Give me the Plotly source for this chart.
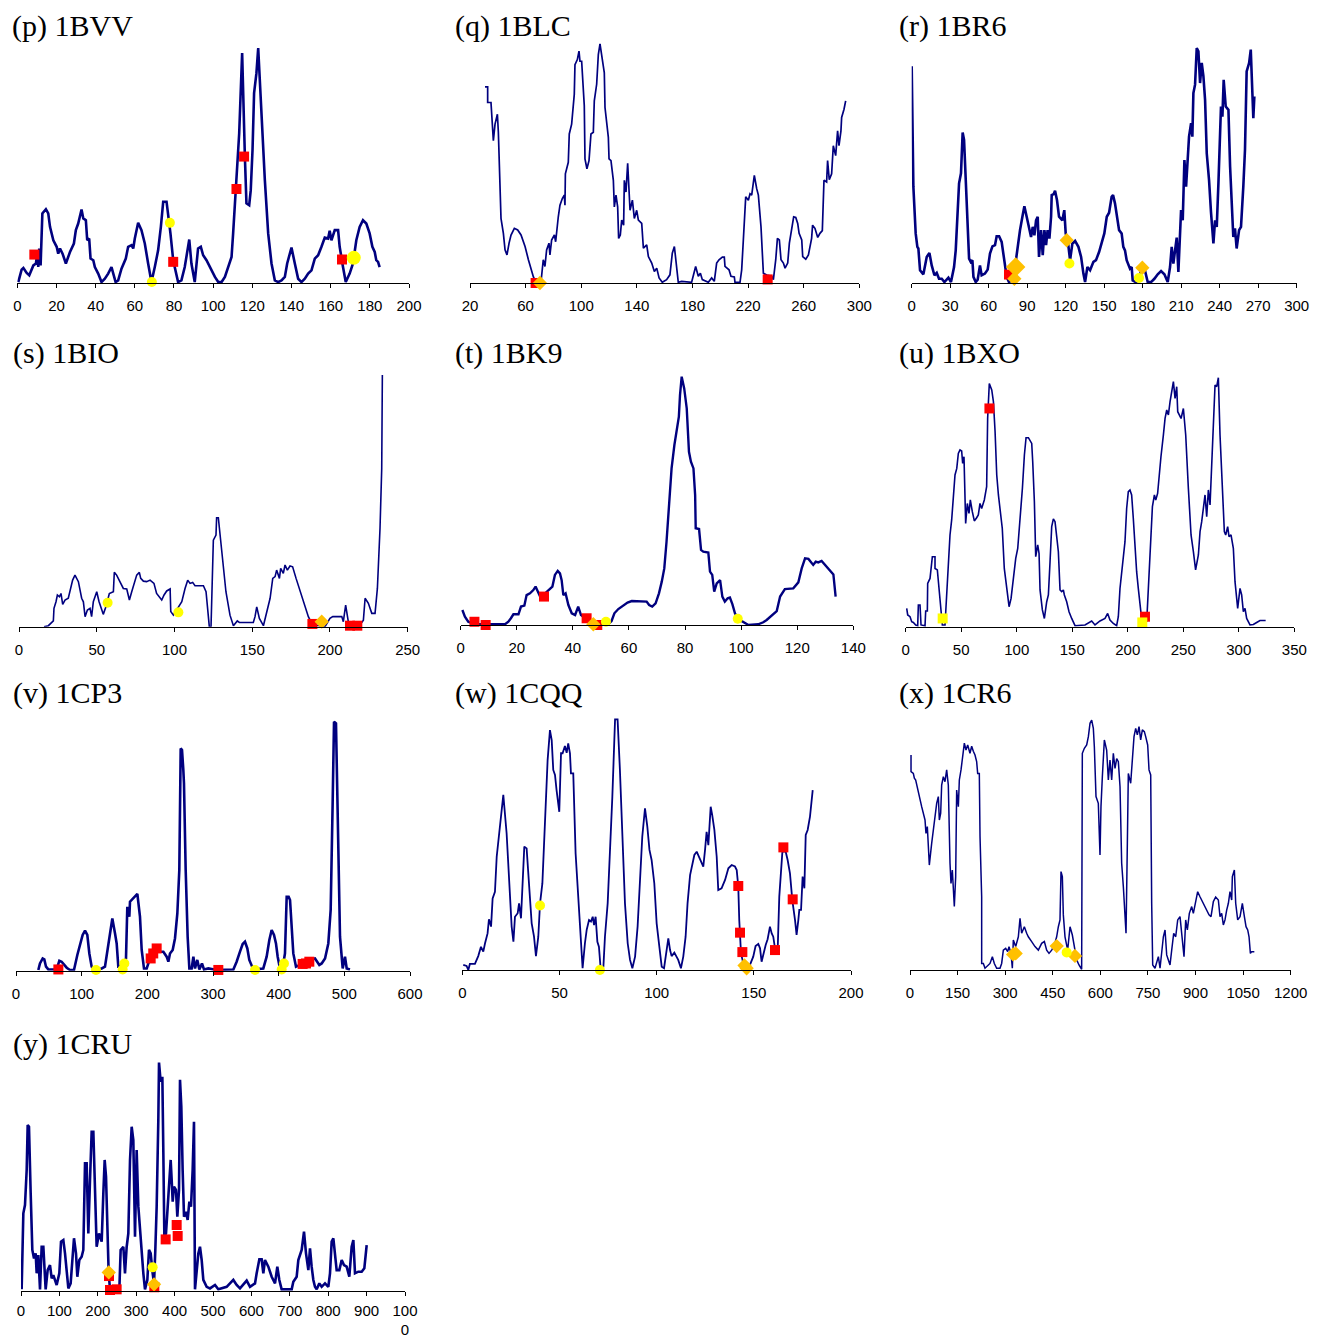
import plotly.graph_objects as go

# ---------------- data (x value, relative height 0-100) ----------------
# (p) 1BVV
p_line = [(0.5,0.4),(2.2,5.7),(3.1,6.4),(4.8,4.3),(6.1,3.3),(7.3,6.1),(8.2,7.5),(9.5,8.3),(10.2,12.5),(10.7,6.8),
          (11.2,14.7),(11.9,7.5),(12.8,29.6),(14.6,31.4),(15.8,29.6),(16.7,23.9),(18.4,18.2),(20.1,15.4),(20.9,12.5),(21.8,14.7),
          (23.1,12.5),(24.8,8.3),(26.9,13.2),(28.9,16.8),(29.9,22.5),(31.1,25.3),(32.8,31.3),(33.7,27.5),(35.0,26.7),(35.7,18.2),
          (36.7,18.9),(37.4,10.4),(38.8,9.7),(39.6,6.8),(41.3,4.0),(43.0,0.4),(44.7,1.8),(46.4,4.0),(48.1,6.8),(49.0,4.0),
          (50.2,0.4),(51.5,1.1),(53.2,6.1),(55.4,10.4),(56.6,15.4),(58.3,16.1),(59.2,14.7),(60.0,18.9),(61.7,25.6),(63.4,22.5),
          (65.1,16.8),(66.8,8.3),(68.5,0.4),(70.2,6.8),(71.9,13.9),(73.3,23.9),(74.5,34.6),(76.2,34.6),(77.0,29.6),(78.2,21.1),
          (79.6,9.7),(81.0,4.0),(82.1,0.4),(83.8,1.1),(85.5,6.8),(87.8,18.5),(88.9,8.3),(90.6,0.4),(92.3,14.7),(93.7,15.4),
          (94.9,11.8),(96.6,9.7),(98.3,6.8),(100.9,2.6),(102.6,0.4),(104.3,0.4),(106.0,2.6),(108.2,8.3),(109.4,11.1),(110.2,21.1),
          (111.9,42.4),(113.3,63.7),(114.8,97.9),(115.3,77.9),(116.2,53.8),(117.0,33.9),(118.4,33.1),(119.2,39.5),(120.1,56.6),(120.9,80.8),
          (122.1,89.3),(123.0,100),(124.7,70.8),(126.4,43.8),(128.1,21.1),(129.8,8.3),(131.5,1.1),(133.2,0.4),(134.9,1.1),(136.6,2.6),
          (137.8,8.3),(140.0,15.1),(141.7,8.3),(143.4,1.8),(145.1,0.4),(146.8,1.8),(148.5,4.0),(150.2,5.4),(151.9,10.4),(153.6,11.8),
          (155.3,15.4),(157.0,19.3),(158.7,18.9),(159.5,22.2),(160.4,18.2),(161.2,20.3),(162.1,22.5),(163.8,22.5),(164.6,15.4),(166.3,6.8),
          (167.7,0.4),(169.7,4.0),(171.4,8.3),(173.1,18.2),(174.8,23.9),(176.5,26.7),(178.2,25.3),(179.9,21.1),(181.3,15.4),(182.5,13.2),
          (183.3,9.7),(184.2,9.0),(185.0,6.8)]
p_red = [(8.7,12.1),(79.6,9.0),(111.9,40.0),(115.8,53.8),(165.8,10.0)]
p_yellow = [(68.7,0.4),(77.9,25.6)]
p_yellow_big = [(171.8,10.7)]
p_gold = []
p_ticks = [0,20,40,60,80,100,120,140,160,180,200]

# (q) 1BLC
q_line = [(30.8,81.7),(32.7,81.7),(32.7,75.2),(35.1,75.2),(36.8,59.3),(38.0,66.2),(39.7,70.3),(40.4,62.8),(42.3,26.9),(44.0,20.7),
          (45.2,13.8),(46.6,11.7),(48.1,16.6),(49.5,20.0),(51.9,22.8),(54.3,22.1),(56.7,20.0),(59.6,15.2),(62.0,9.7),(63.9,5.5),
          (65.6,2.5),(67.2,0.7),(71.1,0.7),(72.7,9.7),(73.9,6.9),(75.1,13.8),(76.8,16.6),(77.5,11.7),(78.7,17.9),(80.7,20.0),
          (81.6,17.2),(83.5,27.6),(84.7,32.4),(86.4,35.2),(87.8,36.6),(88.3,32.4),(88.6,45.5),(90.7,50.3),(91.4,62.1),(93.1,66.2),
          (95.0,78.6),(95.5,91.0),(97.2,93.1),(98.4,96.6),(99.1,92.4),(100.3,92.4),(102.2,73.8),(102.7,51.7),(104.1,47.6),(105.6,51.0),
          (107.0,62.1),(108.7,62.8),(109.4,75.9),(111.1,82.8),(112.3,95.2),(113.5,99.6),(114.7,95.2),(116.6,87.6),(117.1,73.1),(119.5,60.7),
          (120.0,51.7),(121.4,51.0),(123.1,42.8),(123.8,31.7),(125.0,36.6),(126.2,31.7),(126.9,18.6),(128.1,20.0),(129.1,26.2),(130.5,24.1),
          (131.0,42.8),(132.2,37.9),(133.4,49.9),(135.1,30.3),(136.8,34.5),(138.2,26.9),(139.9,30.3),(141.1,26.2),(143.5,24.8),(144.7,14.5),
          (147.1,15.9),(148.3,11.0),(150.7,8.3),(152.6,4.8),(154.3,6.2),(156.0,2.1),(158.3,0.3),(161.4,1.4),(163.8,3.4),(165.5,12.4),
          (167.0,15.2),(168.4,6.9),(169.8,0.3),(172.2,0.7),(179.4,0.3),(182.3,6.9),(184.2,2.8),(185.7,4.1),(187.1,1.4),(191.4,0.3),
          (193.8,2.1),(195.7,0.7),(197.4,8.3),(199.1,9.7),(201.5,10.8),(202.9,10.8),(203.4,6.9),(206.3,5.5),(207.7,2.8),(210.1,2.5),
          (210.6,0.3),(214.2,0.3),(215.4,5.5),(216.6,17.9),(218.3,35.9),(220.2,34.5),(221.4,37.2),(222.6,36.6),(223.8,42.8),(224.5,44.8),
          (226.2,39.3),(227.4,36.6),(229.3,23.4),(231.0,4.1),(233.4,3.3),(237.0,2.8),(238.2,1.4),(239.9,9.7),(241.1,18.6),(242.5,17.9),
          (243.7,9.7),(245.4,8.3),(246.6,6.2),(248.5,8.3),(249.7,16.6),(251.4,22.1),(252.8,27.6),(254.3,27.3),(255.7,24.8),(256.7,20.7),
          (258.6,17.9),(259.3,11.0),(261.5,9.9),(263.4,11.7),(264.5,15.9),(265.7,18.6),(266.4,24.1),(268.1,22.8),(270.1,19.0),(271.7,20.7),
          (273.4,21.8),(274.6,42.8),(276.5,42.1),(277.2,51.0),(278.4,43.0),(280.1,45.5),(281.3,57.2),(283.0,53.1),(284.4,63.4),(285.4,57.2),
          (286.8,63.4),(287.3,69.0),(289.0,72.4),(290.2,75.9)]
q_red = [(67.2,0.0),(234.1,1.5)]
q_yellow = []
q_gold = [(70.3,0.0)]
q_ticks = [20,60,100,140,180,220,260,300]

# (r) 1BR6
r_line = [(0,92.2),(1.3,41.0),(3.1,21.1),(4.4,15.4),(5.2,14.7),(6.5,5.4),(9.1,3.7),(11.7,11.1),(13.8,12.8),(15.6,7.5),
          (17.7,3.3),(19.5,4.3),(21.3,1.8),(23.4,1.8),(25.5,0.4),(28.6,2.3),(30.6,0.4),(33.0,6.8),(34.3,13.9),(35.8,29.6),
          (36.9,42.4),(38.4,46.7),(39.7,64.0),(40.8,60.9),(42.1,43.8),(43.4,29.6),(44.7,10.4),(46.0,9.0),(47.3,9.7),(48.1,2.6),
          (49.9,0.4),(51.4,1.4),(53.2,7.5),(54.5,3.3),(57.1,4.0),(59.2,5.7),(61.0,12.5),(62.9,15.6),(64.9,16.1),(66.2,19.9),
          (68.1,19.9),(70.1,17.5),(72.2,8.3),(74.0,2.6),(75.8,0.4),(77.9,1.1),(80.5,6.8),(82.6,15.4),(84.4,22.5),(86.5,28.9),
          (87.8,32.7),(89.6,28.2),(91.4,23.2),(93.0,19.6),(94.3,23.9),(95.6,20.3),(96.9,26.7),(98.2,28.2),(99.2,11.1),(100.8,22.5),
          (102.1,11.8),(103.4,22.5),(104.7,16.1),(105.9,22.5),(107.3,18.9),(108.6,28.2),(109.1,37.4),(110.6,37.8),(111.7,39.3),(113.2,35.3),
          (114.8,28.2),(117.4,26.7),(118.9,31.0),(120.0,21.1),(121.6,18.2),(123.4,9.7),(125.2,16.8),(127.3,17.9),(129.9,15.4),(132.0,11.1),
          (133.8,4.0),(135.1,0.4),(136.9,6.8),(139.0,5.4),(141.6,9.0),(143.6,9.7),(146.0,13.2),(148.1,16.8),(150.1,21.1),(152.0,28.2),
          (153.8,29.9),(155.8,36.7),(156.9,37.4),(158.4,33.9),(159.7,28.9),(161.6,22.5),(163.6,21.1),(164.9,15.4),(166.2,13.9),(167.5,9.7),
          (170.1,6.1),(171.4,6.8),(172.2,1.1),(174.5,0.4),(177.1,1.1),(179.2,6.8),(180.5,8.3),(181.8,5.4),(183.9,0.4),(186.5,0.4),
          (189.1,1.8),(191.7,3.7),(194.3,5.1),(196.9,3.7),(199.5,0.4),(201.3,6.8),(202.6,15.4),(203.9,8.3),(205.2,13.9),(206.5,19.3),
          (207.8,4.7),(209.1,23.2),(209.9,31.0),(211.2,26.7),(212.5,52.3),(213.8,41.0),(215.1,52.3),(216.1,62.3),(217.7,68.0),(218.7,62.3),
          (219.5,80.8),(220.8,84.4),(222.1,100),(223.4,98.6),(224.7,85.1),(226.0,93.7),(227.3,88.0),(228.6,78.0),(229.9,55.2),(231.7,43.8),
          (233.2,30.3),(235.1,16.8),(236.4,26.7),(237.7,23.9),(239.0,42.4),(241.0,75.1),(242.1,70.8),(243.1,86.5),(244.7,75.1),(246.8,73.7),
          (248.1,49.5),(249.4,35.3),(250.6,19.6),(251.9,23.2),(253.2,14.7),(255.1,22.5),(256.6,23.9),(258.4,41.0),(259.7,56.6),(261.0,90.0),
          (262.9,93.6),(264.2,99.3),(265.5,80.8),(266.2,70.1),(267.0,79.4)]
r_red = [(75.8,3.6)]
r_yellow = [(122.9,8.3),(177.1,2.1)]
r_gold = [(80.0,1.8),(120.8,18.2),(179.7,6.5)]
r_gold_big = [(81.0,6.8)]
r_ticks = [0,30,60,90,120,150,180,210,240,270,300]

# (s) 1BIO
s_line = [(16.1,0),(18.9,0.4),(22.1,2.3),(22.5,7.3),(23.8,9.9),(24.7,12.6),(26.0,11.9),(27.0,13.2),(28.1,8.9),(29.6,10.6),
          (31.7,11.3),(33.2,15.2),(34.5,18.5),(36.0,20.5),(38.2,17.9),(40.3,11.3),(41.4,9.9),(42.5,4.0),(44.0,6.6),(45.7,7.3),
          (46.7,4.0),(47.8,9.9),(50.0,13.9),(51.5,9.9),(54.2,4.9),(55.9,7.9),(58.1,13.2),(60.7,13.9),(61.3,21.6),(62.8,20.5),
          (65.0,17.9),(67.1,15.2),(69.3,15.0),(71.0,10.6),(72.5,13.9),(74.0,16.6),(75.7,20.5),(77.4,21.6),(78.3,19.2),(80.0,18.1),
          (82.1,17.9),(84.3,18.5),(86.8,17.2),(88.5,13.2),(90.2,11.9),(91.8,10.6),(93.3,12.6),(95.0,14.2),(97.2,15.0),(97.6,6.0),
          (99.3,4.6),(102.5,7.9),(104.7,9.9),(106.8,15.2),(108.5,18.5),(110.0,17.2),(111.7,17.6),(113.2,16.3),(118.6,16.3),(120.3,13.9),
          (121.8,3.3),(122.4,0),(123.5,0),(125.0,34.4),(126.7,36.4),(127.1,43.3),(128.2,43.3),(129.3,36.4),(131.0,24.5),(133.1,13.9),
          (135.7,4.6),(137.9,0.4),(140.4,2.3),(141.7,1.7),(150.7,1.7),(151.8,4.0),(152.9,7.9),(154.6,3.3),(157.2,0.4),(159.3,5.3),
          (161.5,11.3),(163.2,19.2),(164.7,19.9),(165.7,22.5),(167.5,19.2),(168.3,23.2),(170.0,21.2),(171.1,24.5),(172.6,22.5),(174.3,24.1),
          (176.0,23.8),(178.2,19.2),(180.3,15.2),(182.5,10.6),(184.0,7.3),(186.1,4.0),(188.3,1.3),(190.4,0.7),(196.8,0),(200.0,3.3),
          (201.8,4.0),(207.6,4.0),(208.6,2.0),(210.1,8.6),(211.8,2.0),(219.3,0.7),(221.5,2.6),(222.6,11.3),(224.7,9.3),(226.9,5.3),
          (229.0,5.3),(230.5,15.2),(232.2,39.1),(233.3,62.9),(233.7,100)]
s_red = [(188.7,1.1),(212.9,0.4),(217.6,0.4)]
s_yellow = [(57.0,9.5),(102.5,5.7)]
s_gold = [(194.7,2.0)]
s_ticks = [0,50,100,150,200,250]

# (t) 1BK9
t_line = [(0.6,6.0),(1.5,3.3),(2.7,1.3),(5.1,0.3),(15.8,0.3),(17.0,1.3),(17.9,2.7),(18.8,4.3),(20.6,4.3),(21.5,7.4),
          (22.7,7.8),(23.5,12.0),(24.7,12.7),(25.9,14.0),(26.7,15.4),(27.5,13.4),(28.3,11.4),(30.1,12.7),(31.3,14.0),(32.7,15.4),
          (33.6,20.1),(34.6,21.7),(35.4,20.7),(36.0,18.0),(36.6,12.0),(37.4,12.7),(38.4,8.0),(39.6,4.7),(40.8,4.0),(41.9,7.4),
          (42.9,4.0),(44.3,2.7),(46.1,1.3),(47.9,0.3),(52.6,0.3),(53.8,1.6),(54.8,4.7),(56.2,6.4),(58.0,8.0),(59.5,9.0),
          (61.0,9.6),(66.3,9.4),(67.2,8.0),(68.3,7.4),(69.5,8.7),(70.7,12.7),(71.7,17.4),(72.6,22.7),(73.4,33.4),(74.3,49.5),
          (75.2,62.8),(76.2,72.2),(77.0,77.5),(77.8,83.6),(78.2,92.2),(78.8,99.6),(79.7,94.9),(80.6,86.9),(81.4,69.5),(82.1,65.5),
          (83.0,62.8),(83.6,52.1),(83.8,38.8),(85.0,38.5),(85.7,30.1),(86.5,29.4),(88.3,29.1),(88.9,21.4),(89.7,20.1),(90.4,13.4),
          (91.3,16.7),(91.9,17.4),(92.5,18.0),(93.3,11.4),(94.2,9.4),(95.2,10.7),(96.0,11.0),(96.9,8.3),(97.8,4.7),(99.0,2.4),
          (100.8,1.1),(102.6,0),(106.1,0.3),(107.9,1.1),(109.1,2.0),(110.3,3.3),(111.5,4.7),(112.7,5.6),(113.9,11.4),(115.0,13.4),
          (115.6,14.4),(118.6,14.7),(120.4,17.1),(121.6,22.7),(122.8,26.7),(124.0,26.5),(124.9,25.1),(125.7,24.1),(126.6,25.4),(127.5,25.1),
          (128.7,25.7),(129.9,24.1),(131.1,22.7),(132.3,20.7),(132.9,20.3),(133.7,11.4)]
t_red = [(4.9,1.3),(8.9,0.0),(29.7,11.4),(44.9,2.7),(48.7,0.0)]
t_yellow = [(51.8,1.3),(98.8,2.5)]
t_gold = [(47.3,0.3)]
t_ticks = [0,20,40,60,80,100,120,140]

# (u) 1BXO
u_line = [(0.9,7.3),(1.8,4.7),(3.9,4.0),(5.4,2.0),(6.9,1.7),(9.0,0.7),(10.8,0.4),(11.4,8.7),(12.9,8.7),(13.8,0.7),
          (17.4,0.4),(18.0,6.3),(19.5,6.3),(19.8,17.3),(21.9,19.3),(22.8,24.7),(24.0,28.0),(26.4,28.0),(26.4,23.3),(28.5,22.7),
          (30.0,15.3),(31.8,3.3),(33.0,0.7),(35.4,0.7),(36.9,12.7),(38.4,23.3),(39.9,36.7),(41.4,42.7),(42.9,54.0),(44.4,60.7),
          (46.0,63.3),(47.4,69.3),(48.9,70.7),(50.4,70.3),(51.3,65.3),(52.5,68.0),(54.0,41.3),(55.5,49.3),(57.0,45.3),(58.2,50.7),
          (60.0,46.0),(61.8,42.3),(63.9,43.6),(65.4,44.7),(66.9,49.3),(68.4,47.3),(70.8,50.7),(72.9,56.0),(73.8,83.3),(75.3,97.3),
          (77.5,94.7),(79.0,90.0),(80.5,78.0),(82.0,60.7),(83.5,52.7),(85.0,47.3),(87.0,39.3),(88.8,23.3),(90.9,16.0),(93.1,8.0),
          (94.9,11.3),(97.0,20.7),(99.1,27.3),(100.9,31.3),(103.0,42.0),(105.1,55.3),(106.9,68.7),(108.4,75.6),(110.5,75.6),(113.5,73.3),
          (114.4,66.0),(115.9,50.0),(117.1,28.0),(118.9,32.7),(120.1,29.3),(121.0,14.7),(123.1,6.7),(124.9,3.3),(127.0,10.0),(128.5,12.7),
          (130.0,26.0),(131.5,40.0),(133.0,43.1),(134.5,42.0),(136.0,36.0),(137.5,30.0),(139.0,14.7),(140.5,14.0),(142.0,14.7),(142.9,12.7),
          (145.0,10.0),(147.1,6.0),(149.5,3.3),(152.5,0.4),(161.5,0.7),(167.5,2.3),(170.5,0.7),(175.0,2.3),(179.5,3.3),(181.9,5.3),
          (184.0,2.7),(187.0,1.3),(190.0,0.4),(191.5,4.0),(193.0,15.3),(195.1,24.7),(197.5,34.0),(199.0,47.3),(200.5,54.0),(202.0,54.7),
          (203.5,52.7),(205.0,43.3),(206.5,30.0),(208.0,22.0),(209.5,15.3),(211.1,8.0),(212.6,2.7),(217.1,2.3),(219.2,23.3),(220.6,38.0),
          (222.2,48.0),(224.0,52.7),(225.2,50.7),(226.9,53.3),(228.1,60.7),(229.9,68.0),(232.1,76.7),(233.6,83.3),(235.1,86.7),(236.6,84.7),
          (238.1,90.0),(239.6,93.3),(241.1,98.0),(242.6,91.3),(244.1,96.0),(245.0,86.0),(248.0,83.3),(250.1,87.3),(252.2,76.7),(254.6,55.3),
          (257.0,36.7),(259.1,30.0),(261.1,22.7),(263.6,28.7),(265.1,38.0),(266.6,42.0),(268.1,47.3),(269.6,52.7),(271.1,44.0),(272.6,54.7),
          (274.1,48.7),(275.6,66.0),(277.1,86.0),(278.6,96.7),(280.1,96.0),(281.6,99.6),(283.1,76.7),(285.2,58.0),(287.0,38.0),(288.2,36.7),
          (290.0,40.0),(291.2,36.0),(293.0,36.7),(295.1,31.3),(296.6,18.0),(299.0,7.3),(301.1,15.3),(302.6,12.7),(304.1,6.0),(305.6,7.3),
          (307.1,3.3),(310.1,0.7),(313.1,0.9),(316.1,1.7),(319.1,2.5),(324.2,2.5)]
u_red = [(75.4,87.3),(215.5,4.0)]
u_yellow_sq = [(33.3,3.3),(213.1,1.7)]
u_ticks = [0,50,100,150,200,250,300,350]

# (v) 1CP3
v_line = [(34.0,0.3),(36.5,2.9),(40.6,4.9),(43.1,4.5),(45.7,1.6),(49.2,0.5),(61.9,0.5),(66.0,4.0),(69.5,3.6),(72.1,2.9),
          (77.2,1.2),(82.2,0.3),(88.3,0.3),(93.4,6.3),(97.5,10.9),(101.5,14.3),(105.1,16.0),(108.6,14.3),(111.7,6.9),(115.2,1.6),
          (120.3,0.3),(130.5,0.9),(135.5,1.6),(139.1,8.3),(143.1,16.3),(146.7,20.9),(150.8,14.9),(153.3,10.9),(155.8,1.6),(160.9,1.6),
          (164.5,2.3),(167.5,4.9),(169.5,25.6),(172.6,21.6),(173.6,27.6),(178.7,28.9),(184.8,30.7),(188.8,21.6),(191.4,8.3),(194.9,0.9),
          (199.0,0.9),(204.1,4.9),(209.1,6.9),(214.2,8.3),(219.3,7.6),(224.4,7.6),(229.4,5.6),(232.0,3.6),(234.5,6.9),(238.6,8.3),
          (242.1,12.9),(245.7,22.9),(248.7,40.3),(250.8,88.9),(252.8,88.3),(254.8,80.3),(255.8,74.9),(258.4,40.3),(261.4,13.6),(264.0,0.9),
          (267.5,0.9),(270.1,5.6),(272.6,0.9),(276.1,4.3),(279.2,0.5),(283.2,2.9),(286.3,0.5),(292.9,0.9),(305.6,0.3),(331.0,0.5),
          (336.0,3.6),(341.1,7.6),(345.2,10.7),(348.7,11.6),(352.3,8.9),(355.3,4.3),(361.4,0.5),(376.6,0.9),(381.7,5.6),(385.8,12.3),
          (389.3,16.3),(392.9,14.3),(395.9,10.9),(398.5,5.6),(402.0,0.9),(407.1,2.9),(409.6,6.9),(412.2,29.6),(415.2,29.6),(417.3,28.3),
          (419.8,18.9),(422.3,6.9),(426.4,1.6),(432.5,2.3),(440.1,3.6),(447.7,4.5),(455.3,4.9),(461.9,2.3),(465.5,2.9),(470.6,4.9),
          (475.6,10.9),(479.2,24.3),(482.2,66.9),(484.3,99.6),(487.3,98.9),(489.3,69.6),(490.9,40.3),(493.4,13.6),(497.5,0.9),(501.0,5.6),
          (503.6,0.9),(508.6,0.5)]
v_red = [(64.5,0.5),(205.1,4.9),(209.0,6.9),(214.2,8.9),(308.1,0.3),(436.5,2.7),(441.6,2.9),(446.7,3.6)]
v_yellow = [(121.8,0.3),(162.4,0.5),(165.0,2.9),(364.0,0.3),(404.6,0.5),(408.1,2.9)]
v_ticks = [0,100,200,300,400,500,600]

# (w) 1CQQ
w_line = [(0.5,2.0),(2.2,1.6),(3.1,0),(3.9,2.4),(6.5,2.4),(7.4,4.0),(8.2,5.5),(9.6,9.2),(10.8,7.3),(11.7,10.6),
          (13.0,14.5),(13.7,20.1),(14.8,17.2),(15.6,28.4),(16.8,31.0),(17.7,44.9),(19.0,54.2),(19.9,60.8),(21.1,69.4),(22.8,54.2),
          (24.2,33.0),(25.4,17.2),(26.3,11.2),(27.1,21.1),(28.5,22.5),(29.2,26.4),(30.2,20.5),(30.9,30.4),(31.9,48.9),(33.1,48.2),
          (34.3,33.0),(35.7,18.5),(36.9,13.2),(37.9,5.5),(39.1,13.2),(40.0,26.4),(41.2,34.3),(42.5,59.4),(43.9,83.2),(45.1,95.1),
          (46.0,91.1),(46.8,79.3),(47.7,77.3),(48.5,71.3),(49.4,66.1),(49.9,62.7),(50.8,85.9),(51.6,85.9),(52.8,88.8),(53.7,86.1),
          (54.5,89.8),(55.4,85.9),(55.9,77.9),(57.1,77.9),(58.3,46.2),(59.7,27.7),(61.1,11.9),(61.9,0.7),(63.1,10.6),(64.0,15.9),
          (65.2,19.8),(66.2,19.2),(67.1,21.1),(67.8,17.8),(68.6,21.1),(69.5,11.2),(70.3,9.2),(71.2,0.3),(72.6,1.3),(73.4,13.2),
          (74.8,26.4),(76.0,46.2),(77.2,68.7),(78.6,99.3),(79.9,99.3),(81.1,79.3),(82.3,52.8),(83.7,26.4),(85.1,10.6),(86.3,4.0),
          (87.5,0.7),(88.9,5.3),(90.2,17.2),(91.4,34.3),(92.6,52.8),(94.0,64.1),(95.2,56.8),(96.3,47.6),(97.4,43.6),(98.8,34.3),
          (100.0,18.5),(101.4,9.2),(102.6,1.3),(103.8,0.7),(104.8,5.3),(106.0,12.5),(106.9,7.9),(107.7,5.5),(109.1,6.9),(110.3,5.3),
          (111.1,4.0),(112.5,0.7),(113.7,5.3),(114.9,13.2),(115.9,26.4),(117.2,37.6),(118.4,41.6),(119.4,45.6),(120.6,46.9),(121.8,44.9),
          (123.1,42.9),(124.0,41.0),(124.9,47.6),(125.7,54.8),(126.6,49.5),(127.8,64.7),(128.6,61.4),(129.7,55.5),(130.9,44.9),(131.7,31.7),
          (133.4,32.4),(135.2,35.7),(136.9,40.3),(138.6,41.6),(140.3,41.0),(141.2,39.6),(142.0,33.0),(142.5,19.8),(143.4,6.6),(144.6,2.6),
          (146.3,0.7),(148.0,2.0),(149.7,5.3),(150.9,9.5),(152.3,10.3),(153.2,8.6),(154.0,3.3),(154.9,6.6),(156.1,9.9),(157.1,12.2),
          (158.3,17.2),(159.2,14.5),(160.0,13.2),(160.9,8.6),(162.3,8.6),(163.1,29.1),(164.0,41.0),(164.7,46.9),(166.4,46.9),(167.4,43.6),
          (168.6,38.3),(169.8,27.7),(171.2,19.8),(172.0,13.9),(172.9,19.8),(173.4,23.8),(174.3,23.8),(175.1,37.0),(176.0,32.4),(176.7,53.5),
          (177.7,55.5),(178.9,60.8),(180.3,71.3)]
w_red = [(142.0,33.3),(142.9,14.8),(144.1,7.1),(160.9,7.9),(165.2,48.6),(170.0,28.0)]
w_yellow = [(40.0,25.6),(70.8,0.0)]
w_gold = [(145.2,1.8),(146.3,0.7)]
w_ticks = [0,50,100,150,200]

# (x) 1CR6
x_line = [(3.2,85.4),(3.2,78.8),(10.5,78.1),(13.7,76.2),(17.9,75.5),(26.3,70.2),(36.8,64.9),(47.3,59.6),(50.4,54.3),(54.6,57.0),
          (57.8,45.7),(60.9,41.7),(68.3,50.3),(76.7,59.6),(84.1,66.2),(89.3,68.9),(92.5,59.6),(96.7,62.3),(99.8,73.5),(105.1,76.8),
          (110.3,74.8),(115.6,79.5),(120.8,73.5),(126.1,42.4),(129.2,34.4),(133.4,39.7),(136.6,29.1),(139.7,25.2),(144.0,37.1),(147.1,71.5),
          (152.4,64.9),(155.5,75.5),(160.8,79.5),(166.0,86.1),(171.3,90.1),(176.5,87.4),(181.8,89.4),(189.1,86.1),(194.4,88.9),(199.6,86.9),
          (204.9,85.4),(210.1,82.8),(213.3,78.1),(218.5,78.1),(220.7,53.0),(225.9,29.1),(225.9,2.6),(231.2,2.6),(236.4,0.7),(252.2,2.6),
          (259.6,5.3),(265.8,2.6),(273.2,0.7),(283.7,0.7),(288.9,2.6),(294.2,7.9),(301.6,8.6),(307.9,7.3),(312.1,9.3),(318.4,6.6),
          (322.6,0.7),(325.7,11.9),(333.1,9.3),(341.5,13.2),(346.8,20.5),(352.0,14.6),(360.4,17.2),(367.8,14.6),(373.0,13.2),(383.5,11.3),
          (394.0,9.3),(404.5,7.9),(415.0,10.6),(423.5,11.3),(430.8,7.9),(438.2,6.6),(446.6,7.9),(455.0,9.9),(462.3,13.2),(467.6,17.2),
          (472.8,19.9),(476.0,39.1),(480.2,37.1),(483.3,21.9),(488.6,13.2),(497.0,7.9),(504.4,17.2),(511.7,13.9),(518.0,9.3),(525.4,4.0),
          (532.7,2.0),(541.1,0.3),(543.2,86.1),(549.6,88.1),(556.9,89.4),(562.2,92.7),(567.4,98.0),(572.7,99.3),(577.9,96.0),(581.1,88.7),
          (586.3,68.9),(593.6,66.2),(598.9,45.7),(602.0,64.9),(606.3,76.8),(612.6,91.4),(619.9,87.4),(625.2,75.5),(630.4,83.4),(635.7,75.5),
          (640.9,86.1),(646.2,80.1),(651.5,84.0),(656.7,82.8),(662.0,72.8),(667.2,42.4),(672.5,33.1),(677.7,21.2),(680.9,14.6),(685.1,50.3),
          (688.2,78.1),(695.6,74.2),(700.8,84.8),(706.1,92.7),(711.4,96.0),(716.6,93.4),(721.9,96.7),(727.1,91.4),(732.4,95.4),(738.7,94.7),
          (742.9,92.7),(749.2,89.4),(753.4,79.5),(758.7,77.5),(761.8,26.5),(765.0,2.0),(772.3,0.7),(777.6,2.6),(782.9,5.3),(788.1,0.7),
          (791.2,5.3),(798.6,13.2),(803.9,15.9),(809.1,6.0),(814.4,4.0),(819.6,2.0),(824.9,7.9),(831.2,14.6),(837.5,13.2),(843.8,19.9),
          (851.1,21.2),(856.4,14.6),(863.7,5.3),(869.0,19.9),(874.2,15.9),(880.5,22.5),(887.9,25.2),(893.1,22.5),(900.5,27.8),(906.8,31.1),
          (914.1,29.1),(919.4,27.8),(927.8,25.2),(935.2,23.8),(942.5,21.9),(948.8,21.2),(956.2,27.2),(963.5,29.0),(971.9,27.8),(977.2,21.2),
          (982.4,22.5),(987.7,17.9),(992.9,19.9),(998.2,23.8),(1003.5,26.5),(1008.7,31.1),(1014.0,27.8),(1016.1,37.1),(1022.4,39.7),(1026.6,26.5),
          (1032.9,19.9),(1040.3,21.2),(1047.6,26.5),(1054.0,21.2),(1059.2,17.2),(1064.5,15.9),(1068.7,13.2),(1072.9,6.6),(1077.0,7.3),(1085.4,7.3)]
x_yellow = [(493.8,7.0)]
x_gold = [(325.0,6.2),(333.1,6.6),(462.3,9.5),(520.0,5.6)]
x_ticks = [0,150,300,450,600,750,900,1050,1200]

# (y) 1CRU
y_line = [(1.7,0.6),(6.1,33.8),(10.4,37.4),(14.8,52.7),(17.4,72.3),(20.8,71.6),(25.2,42.5),(29.5,17.8),(33.9,14.1),(38.2,16.3),
          (40.8,7.6),(45.1,15.6),(49.5,0.6),(53.8,19.2),(58.2,19.2),(64.2,0.6),(69.4,9.0),(75.5,11.2),(79.9,5.4),(84.2,6.8),
          (92.9,2.5),(99.8,7.6),(104.2,21.4),(110.2,22.1),(114.6,16.3),(123.3,1.0),(129.3,3.2),(134.5,13.4),(138.0,22.9),(143.2,16.3),
          (146.7,6.1),(151.9,13.4),(157.9,14.8),(162.3,17.8),(166.7,55.6),(171.0,55.6),(175.3,25.0),(179.7,48.3),(184.0,69.4),(188.4,69.4),
          (192.7,42.5),(197.0,19.2),(203.1,25.0),(210.1,21.4),(214.4,42.5),(217.9,57.1),(221.4,49.8),(224.8,23.6),(228.3,7.6),(231.8,0.6),
          (240.5,1.0),(249.1,0.6),(256.1,0.6),(259.5,17.8),(266.5,19.2),(270.8,7.6),(275.2,19.2),(279.5,25.0),(283.9,57.1),(288.2,71.6),
          (292.5,65.8),(296.9,23.6),(301.2,61.4),(305.6,36.7),(309.9,26.5),(314.2,16.3),(318.6,7.6),(322.9,0.6),(329.0,4.7),(333.3,17.8),
          (337.7,16.3),(342.9,7.6),(346.4,3.2),(349.8,17.8),(353.3,36.7),(357.6,74.5),(359.4,99.6),(363.7,91.3),(368.1,93.4),(370.7,59.9),
          (373.3,23.6),(377.6,25.0),(382.0,38.1),(386.3,48.3),(389.8,57.1),(392.4,48.3),(395.0,38.9),(398.4,45.4),(403.6,44.0),(407.1,32.3),
          (411.5,44.0),(414.1,92.1),(417.5,80.3),(421.0,52.5),(424.5,32.3),(429.7,34.5),(434.0,30.9),(438.4,38.9),(442.7,36.7),(447.0,52.7),
          (450.5,73.8),(453.1,0.6),(457.5,9.0),(461.8,16.3),(466.1,19.2),(470.5,13.4),(474.8,4.7),(483.5,1.7),(492.2,1.0),(505.2,2.5),
          (513.9,0.6),(535.6,1.7),(552.9,4.7),(561.6,2.5),(570.3,1.0),(587.7,4.4),(596.4,1.7),(609.4,3.2),(613.7,7.6),(620.7,13.7),
          (626.7,13.7),(631.1,7.6),(635.4,13.4),(644.1,10.5),(652.8,6.1),(661.5,3.2),(667.5,10.5),(672.7,4.7),(678.8,0.6),(704.9,0.6),
          (709.2,3.9),(717.9,6.1),(722.2,13.4),(730.9,17.8),(737.0,25.8),(742.2,16.3),(748.3,9.0),(752.6,18.5),(756.9,10.5),(761.3,4.7),
          (765.6,1.7),(770.0,0.6),(776.9,3.2),(783.0,1.7),(791.7,3.2),(800.3,1.7),(804.7,7.6),(809.0,21.4),(813.4,22.9),(817.7,16.3),
          (822.0,9.0),(829.0,9.0),(835.1,13.4),(841.1,11.2),(848.1,10.5),(855.0,6.1),(861.1,19.2),(865.5,22.1),(869.8,7.6),(878.5,8.3),
          (887.2,8.3),(894.1,9.8),(900.2,19.9)]
y_red = [(229.2,6.4),(231.8,0.3),(249.1,0.6),(347.2,1.5),(376.7,22.4),(405.4,28.7),(408.0,23.9)]
y_yellow = [(342.9,10.2)]
y_gold = [(228.5,8.0),(346.5,2.8)]
y_ticks = [0,100,200,300,400,500,600,700,800,900,1000]
y_ticktext = ['0','100','200','300','400','500','600','700','800','900','100<br>0']

titles = ['(p) 1BVV','(q) 1BLC','(r) 1BR6','(s) 1BIO','(t) 1BK9','(u) 1BXO','(v) 1CP3','(w) 1CQQ','(x) 1CR6','(y) 1CRU']

# ---------------- layout / drawing ----------------
W, H = 1320, 1337
NAVY = '#00007F'
RED = '#FF0000'
YEL = '#FFFF00'
GOLD = '#FFC000'
YTOP = 102.0

# pixel boxes: (x_left, top_of_100, x_right, axis_y), title anchor (x, y)
panels = [
    dict(line=p_line, red=p_red, yel=p_yellow, yel_big=p_yellow_big, gold=p_gold, xr=(0,200), ticks=p_ticks, lw=2.6,
         box=(17.3,48,409,283), tpos=(10,26)),
    dict(line=q_line, red=q_red, yel=q_yellow, gold=q_gold, xr=(20,300), ticks=q_ticks, lw=1.7,
         box=(470,43,859.3,283), tpos=(453,26)),
    dict(line=r_line, red=r_red, yel=r_yellow, gold=r_gold, gold_big=r_gold_big, xr=(0,300), ticks=r_ticks, lw=2.6,
         box=(911.7,48,1296.7,283), tpos=(897,26)),
    dict(line=s_line, red=s_red, yel=s_yellow, gold=s_gold, xr=(0,250), ticks=s_ticks, lw=1.6,
         box=(19,375,407.7,626.7), tpos=(11,353)),
    dict(line=t_line, red=t_red, yel=t_yellow, gold=t_gold, xr=(0,140), ticks=t_ticks, lw=2.4,
         box=(460.7,375.7,853.3,625), tpos=(453,353)),
    dict(line=u_line, red=u_red, yel_sq=u_yellow_sq, xr=(0,350), ticks=u_ticks, lw=1.6,
         box=(905.7,376.7,1294.3,626.7), tpos=(897,353)),
    dict(line=v_line, red=v_red, yel=v_yellow, xr=(0,600), ticks=v_ticks, lw=2.6,
         box=(16,720.7,410,970.7), tpos=(11,693)),
    dict(line=w_line, red=w_red, yel=w_yellow, gold=w_gold, xr=(0,200), ticks=w_ticks, lw=1.8,
         box=(462.3,717.7,851,970), tpos=(453,693)),
    dict(line=x_line, yel=x_yellow, gold=x_gold, xr=(0,1200), ticks=x_ticks, lw=1.5,
         box=(910,718.3,1290.7,970), tpos=(897,693)),
    dict(line=y_line, red=y_red, yel=y_yellow, gold=y_gold, xr=(0,1000), ticks=y_ticks, ticktext=y_ticktext, lw=2.6,
         box=(21,1061.7,405,1290.7), tpos=(11,1044), standoff=2),
]

fig = go.Figure()
layout = dict(width=W, height=H, autosize=False,
              margin=dict(l=0, r=0, t=0, b=0, pad=0, autoexpand=False),
              paper_bgcolor='white', plot_bgcolor='white', showlegend=False)
annotations = []


def xy(pts):
    return [a for a, b in pts], [b for a, b in pts]


for i, pn in enumerate(panels):
    n = '' if i == 0 else str(i + 1)
    xa, ya = 'x' + n, 'y' + n
    x0, ytop, x1, yax = pn['box']
    h = (yax - ytop) * YTOP / 100.0
    layout['xaxis' + n] = dict(
        domain=[x0 / W, x1 / W], range=list(pn['xr']), anchor=ya, automargin=False,
        tickmode='array', tickvals=pn['ticks'],
        ticktext=pn.get('ticktext', [str(t) for t in pn['ticks']]),
        showline=True, linecolor='black', linewidth=1, mirror=False,
        ticks='outside', ticklen=4, tickwidth=1, tickcolor='black',
        showgrid=False, zeroline=False, ticklabelstandoff=pn.get('standoff', 5),
        tickfont=dict(family='Liberation Sans, Arial, sans-serif', size=15, color='black'))
    layout['yaxis' + n] = dict(
        domain=[1 - yax / H, 1 - (yax - h) / H], range=[0, YTOP], anchor=xa, automargin=False,
        visible=False, showgrid=False, zeroline=False)

    lx, ly = xy(pn['line'])
    fig.add_trace(go.Scatter(x=lx, y=ly, mode='lines', xaxis=xa, yaxis=ya,
                             line=dict(color=NAVY, width=pn['lw']), hoverinfo='skip'))

    def add_markers(pts, symbol, color, size):
        if not pts:
            return
        mx, my = xy(pts)
        fig.add_trace(go.Scatter(x=mx, y=my, mode='markers', xaxis=xa, yaxis=ya, cliponaxis=False,
                                 marker=dict(symbol=symbol, color=color, size=size, line=dict(width=0)),
                                 hoverinfo='skip'))

    add_markers(pn.get('red'), 'square', RED, 10)
    add_markers(pn.get('gold'), 'diamond', GOLD, 11)
    add_markers(pn.get('gold_big'), 'diamond', GOLD, 15)
    add_markers(pn.get('yel'), 'circle', YEL, 10)
    add_markers(pn.get('yel_big'), 'circle', YEL, 14)
    add_markers(pn.get('yel_sq'), 'square', YEL, 10)

    tx, ty = pn['tpos']
    annotations.append(dict(text=titles[i], x=tx / W, y=1 - ty / H, xref='paper', yref='paper',
                            xanchor='left', yanchor='middle', showarrow=False,
                            font=dict(family='Liberation Serif, Times New Roman, serif', size=30, color='black')))

layout['annotations'] = annotations
fig.update_layout(**layout)
css = ("var s=document.createElement('style');"
       "s.innerHTML='html,body{margin:0;padding:0;overflow:hidden;}';"
       "document.head.appendChild(s);")
fig.write_html("out.html", config={'displayModeBar': False, 'responsive': False}, post_script=css)
